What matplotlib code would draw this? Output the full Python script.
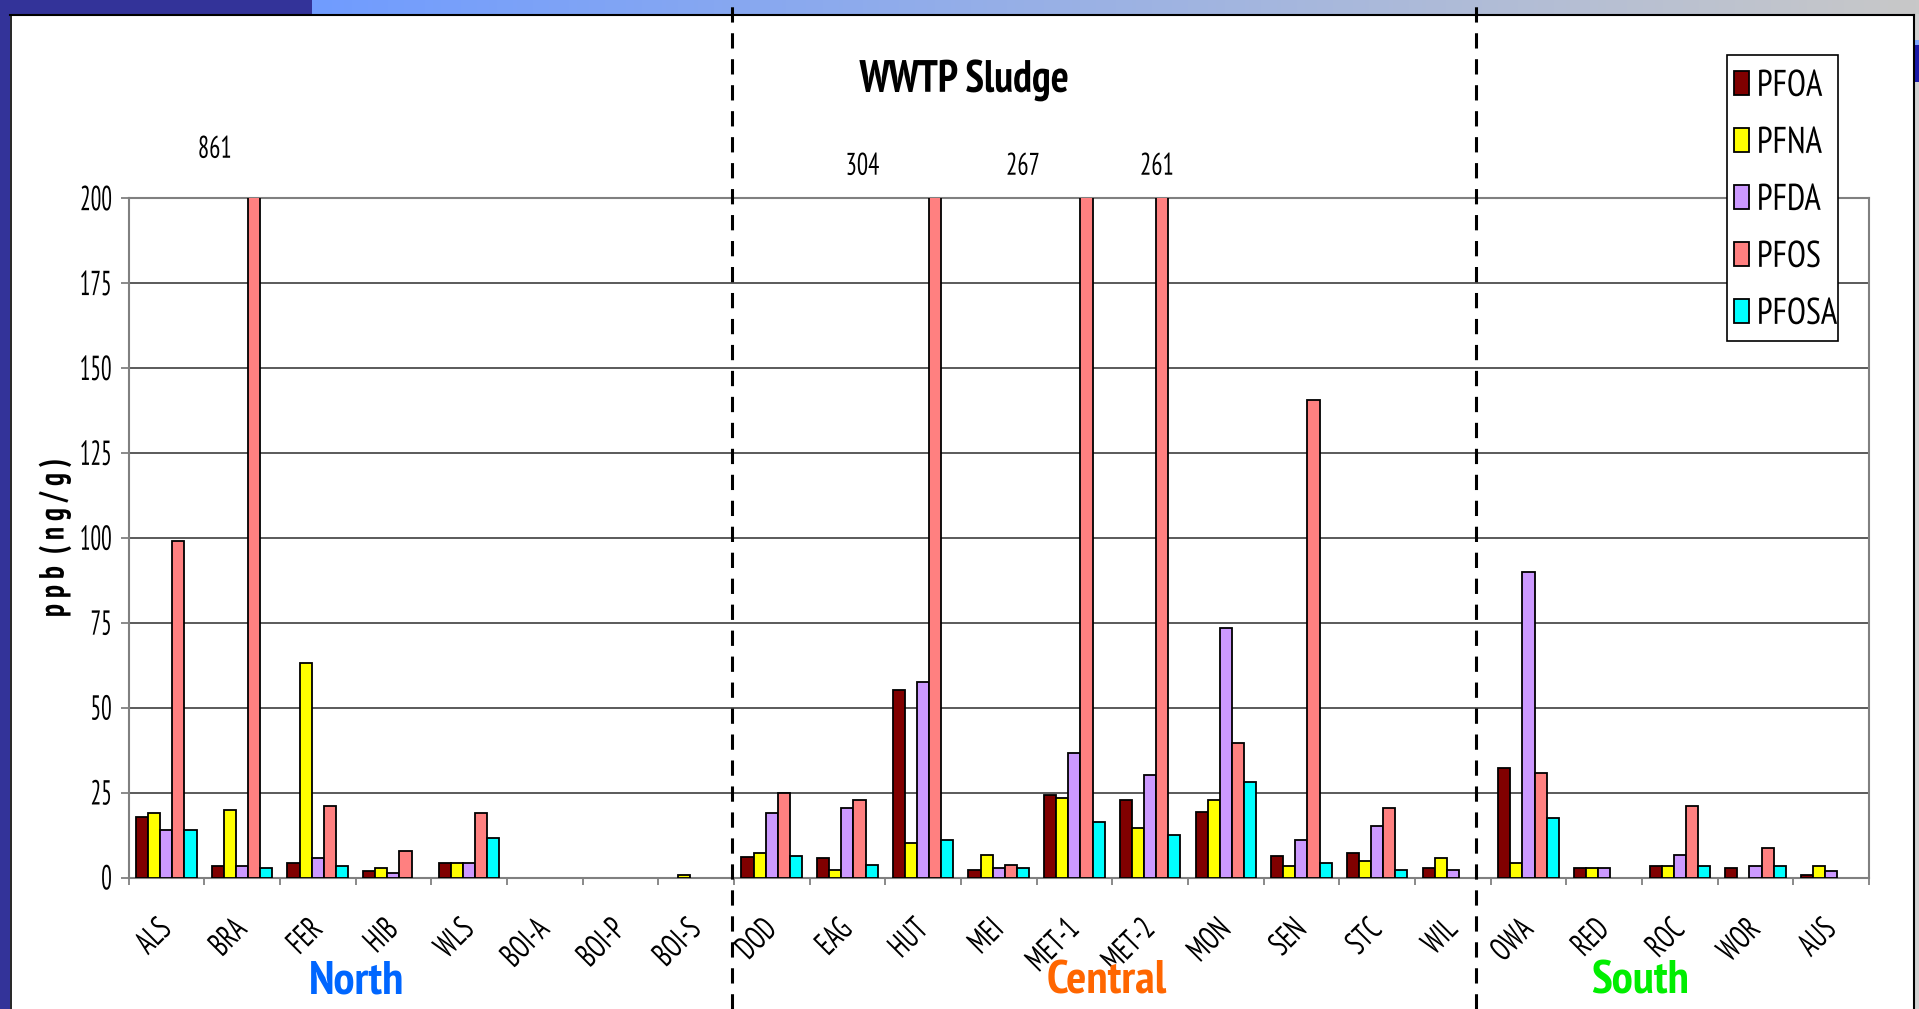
import numpy as np
import matplotlib
matplotlib.use('Agg')
import matplotlib.pyplot as plt
from matplotlib import font_manager
from matplotlib.patches import Rectangle
from matplotlib.lines import Line2D
from matplotlib.patheffects import AbstractPathEffect
import matplotlib.transforms as mtransforms

# ---------------- data ----------------
categories = ['ALS', 'BRA', 'FER', 'HIB', 'WLS', 'BOI-A', 'BOI-P', 'BOI-S',
              'DOD', 'EAG', 'HUT', 'MEI', 'MET-1', 'MET-2', 'MON', 'SEN', 'STC', 'WIL',
              'OWA', 'RED', 'ROC', 'WOR', 'AUS']
nan = np.nan
pfoa = [17.7, 3.5, 4.3, 2.0, 4.3, nan, nan, nan,
        5.9, 5.8, 55.2, 2.3, 24.2, 22.8, 19.2, 6.4, 7.2, 2.8,
        32.2, 2.7, 3.5, 2.7, 0.7]
pfna = [19.0, 19.8, 63.1, 2.8, 4.3, nan, nan, 0.8,
        7.3, 2.3, 10.2, 6.6, 23.5, 14.5, 22.7, 3.5, 4.9, 5.7,
        4.2, 2.7, 3.5, nan, 3.5]
pfda = [13.9, 3.5, 5.8, 1.3, 4.3, nan, nan, nan,
        19.1, 20.5, 57.5, 2.9, 36.8, 30.1, 73.6, 10.9, 15.3, 2.1,
        89.9, 2.7, 6.5, 3.5, 2.0]
pfos = [99.0, 861, 21.2, 7.9, 19.0, nan, nan, nan,
        25.0, 22.7, 304, 3.7, 267, 261, 39.6, 140.5, 20.5, nan,
        30.8, nan, 21.2, 8.8, nan]
pfosa = [13.9, 2.8, 3.5, nan, 11.7, nan, nan, nan,
         6.4, 3.7, 11.0, 2.9, 16.2, 12.5, 28.0, 4.3, 2.1, nan,
         17.6, nan, 3.5, 3.5, nan]
series_names = ['PFOA', 'PFNA', 'PFDA', 'PFOS', 'PFOSA']
series_colors = ['#800000', '#FFFF00', '#CC99FF', '#FF8080', '#00FFFF']
yticks = [0, 25, 50, 75, 100, 125, 150, 175, 200]
# off-scale values written above the chart
offscale_labels = ['861', '304', '267', '261']
offscale_x = [1.14, 9.70, 11.82, 13.59]
offscale_y = [214.5, 209.5, 209.5, 209.5]
regions = ['North', 'Central', 'South']
region_x = [3.02, 12.93, 19.97]
region_colors = ['#0066FF', '#FF6600', '#00EE00']
divider_x = [7.975, 17.81]


# ---------------- fonts ----------------
def _w(v):
    if isinstance(v, str):
        return {'normal': 400, 'regular': 400, 'bold': 700}.get(v.lower(), 400)
    return int(v)


def pick_font(cands, fallback):
    fl = font_manager.fontManager.ttflist
    for c in cands:
        ws = {_w(f.weight) for f in fl
              if f.name == c and f.style == 'normal' and '[' not in f.fname}
        if 400 in ws and 700 in ws:
            return c
    return fallback


NARROW = pick_font(['Liberation Sans Narrow', 'Arial Narrow', 'PT Sans Narrow',
                    'IBM Plex Sans Condensed', 'Archivo Narrow', 'Roboto Condensed'],
                   'Liberation Sans')
plt.rcParams['font.family'] = [NARROW, 'DejaVu Sans']


class VStretch(AbstractPathEffect):
    """stretch glyphs along their own vertical axis (tall, narrow lettering)"""

    def __init__(self, k, c=35):
        super().__init__()
        self.k, self.c = k, c

    def draw_path(self, renderer, gc, tpath, affine, rgbFace=None):
        pre = mtransforms.Affine2D().translate(0, -self.c).scale(1, self.k).translate(0, self.c)
        renderer.draw_path(gc, tpath, pre + affine, rgbFace)


W, H = 1919, 1009
fig = plt.figure(figsize=(W / 100, H / 100), dpi=100)
fig.patch.set_facecolor('white')


def frect(x0, y0, x1, y1, color, z=-2):
    """rectangle in figure pixels measured from top-left"""
    fig.add_artist(Rectangle((x0 / W, 1 - y1 / H), (x1 - x0) / W, (y1 - y0) / H,
                             transform=fig.transFigure, facecolor=color,
                             edgecolor='none', zorder=z))


# ---------------- slide decoration ----------------
frect(0, 0, 10, H, '#333399')
frect(1914, 0, W, H, '#d0d0d0')
frect(1915, 40, W, 45, '#7fa8ff', z=-1)
frect(1915, 45, W, 82, '#1a1aa8', z=-1)
frect(0, 0, 312, 14, '#333399', z=-1)
gax = fig.add_axes([312 / W, 1 - 14 / H, (W - 312) / W, 14 / H], zorder=-1)
t = np.linspace(0, 1, 400)
c0 = np.array([112, 156, 255]) / 255
c1 = np.array([200, 200, 200]) / 255
grad = (c0[None, :] * (1 - t[:, None]) + c1[None, :] * t[:, None])[None, :, :]
gax.imshow(grad, aspect='auto', extent=(0, 1, 0, 1))
gax.set_axis_off()
fig.add_artist(Line2D([10 / W, 1914 / W], [1 - 15 / H, 1 - 15 / H], transform=fig.transFigure,
                      color='black', lw=1.5, zorder=1))
fig.add_artist(Line2D([10.5 / W, 10.5 / W], [0, 1 - 15 / H], transform=fig.transFigure,
                      color='black', lw=1.2, zorder=1))
fig.add_artist(Line2D([1914 / W, 1914 / W], [0, 1 - 15 / H], transform=fig.transFigure,
                      color='black', lw=1.5, zorder=1))

# ---------------- chart ----------------
ax = fig.add_axes([128.5 / W, 131.5 / H, 1740.5 / W, 679.2 / H])
n = len(categories)
xc = np.arange(n) + 0.5
bw = 0.16
handles = []
for i, (vals, name, col) in enumerate(zip([pfoa, pfna, pfda, pfos, pfosa],
                                          series_names, series_colors)):
    b = ax.bar(xc + (i - 2) * bw, vals, bw, color=col, edgecolor='black',
               linewidth=1.3, zorder=3, label=name)
    handles.append(b)

ax.set_xlim(0, n)
ax.set_ylim(0, 200)
ax.set_yticks(yticks)
ax.yaxis.grid(True, color='#5a5a5a', lw=1.4, zorder=0)
ax.set_axisbelow(True)
for s in ax.spines.values():
    s.set_color('#808080')
    s.set_linewidth(1.5)

ax.tick_params(axis='y', direction='out', length=6, width=1.3, color='#808080',
               labelsize=17, pad=6)
ax.set_xticks(xc)
ax.set_xticklabels(categories, rotation=45, ha='right', va='center',
                   rotation_mode='anchor', fontsize=19)
ax.tick_params(axis='x', which='major', length=0, pad=34)
ax.set_xticks(np.arange(n + 1), minor=True)
ax.tick_params(axis='x', which='minor', direction='out', length=5, width=1.3, color='#808080')
for lbl in ax.get_yticklabels():
    lbl.set_path_effects([VStretch(1.47)])
for lbl in ax.get_xticklabels():
    lbl.set_path_effects([VStretch(1.25)])

ax.set_ylabel('p p b  ( n g / g )', fontsize=21, fontweight='bold',
              path_effects=[VStretch(1.2)])
ax.yaxis.set_label_coords(-0.0348, 0.5)

for lab, lx, ly in zip(offscale_labels, offscale_x, offscale_y):
    ax.text(lx, ly, lab, ha='center', va='center', fontsize=18, clip_on=False,
            path_effects=[VStretch(1.25)])

fig.text(964 / W, 1 - 80 / H, 'WWTP Sludge', ha='center', va='center',
         fontsize=30.5, fontweight='bold', path_effects=[VStretch(1.07)])

blend = mtransforms.blended_transform_factory(ax.transData, fig.transFigure)
for rx, rname, rcol in zip(region_x, regions, region_colors):
    ax.text(rx, 1 - 981 / H, rname, transform=blend, ha='center', va='center',
            fontsize=34, fontweight='bold', color=rcol, clip_on=False)

for dx in divider_x:
    ax.add_artist(Line2D([dx, dx], [0, 1], transform=blend, color='black',
                         lw=2.2, linestyle=(0, (5, 3.5)), zorder=10, clip_on=False))

# legend: frame drawn as a separate box, entries from the bars
ax.add_patch(Rectangle((1727 / W, 1 - 341 / H), 111 / W, 286 / H, transform=fig.transFigure,
                       facecolor='white', edgecolor='black', linewidth=1.2,
                       zorder=19, clip_on=False))
leg = ax.legend(handles=handles, loc='upper left',
                bbox_to_anchor=((1734 - 128.5) / 1740.5, (877.5 - 70) / 679.2),
                borderaxespad=0, borderpad=0, fontsize=25, frameon=False,
                handlelength=0.43, handleheight=0.66,
                handletextpad=0.23, labelspacing=0.72)
leg.set_zorder(20)
for txt in leg.get_texts():
    txt.set_path_effects([VStretch(1.07)])

fig.savefig('out.png', dpi=100)
